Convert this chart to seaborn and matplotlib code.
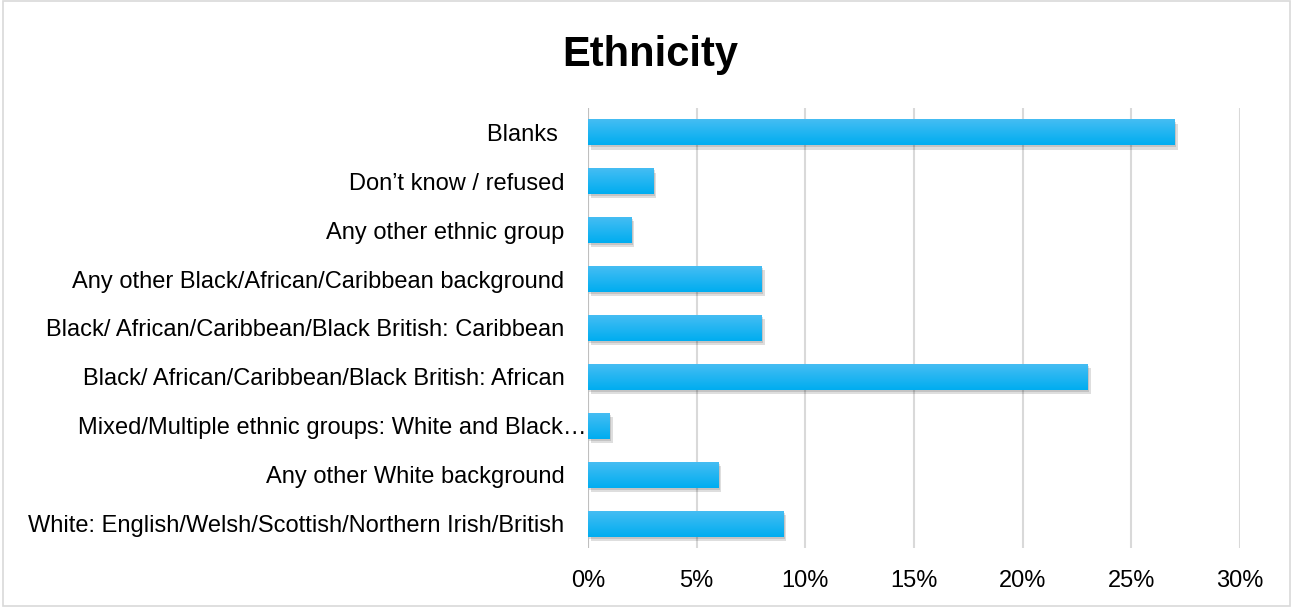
import numpy as np
import pandas as pd
import matplotlib
matplotlib.use("Agg")
import matplotlib.pyplot as plt
import matplotlib.patheffects as pe
import matplotlib.transforms as mtransforms
from matplotlib.colors import LinearSegmentedColormap
from matplotlib.ticker import PercentFormatter
import seaborn as sns

categories = [
    "Blanks ",
    "Don\u2019t know / refused",
    "Any other ethnic group",
    "Any other Black/African/Caribbean background",
    "Black/ African/Caribbean/Black British: Caribbean",
    "Black/ African/Caribbean/Black British: African",
    "Mixed/Multiple ethnic groups: White and Black\u2026",
    "Any other White background",
    "White: English/Welsh/Scottish/Northern Irish/British",
]
shares = [27, 3, 2, 8, 8, 23, 1, 6, 9]
x_ticks = [0, 5, 10, 15, 20, 25, 30]

df = pd.DataFrame({"group": categories, "share": shares})

sns.set_theme(style="white")
plt.rcParams["font.family"] = ["Liberation Sans", "DejaVu Sans"]

fig = plt.figure(figsize=(12.93, 6.07), dpi=100)
ax = fig.add_axes([588 / 1293, 1 - 548 / 607, (1240 - 588) / 1293, (548 - 108) / 607])

sns.barplot(data=df, x="share", y="group", color="#00b0f0", width=0.53,
            orient="h", ax=ax, zorder=3, linewidth=0)

# gradient fill + soft shadow on each bar, like the office chart
grad = LinearSegmentedColormap.from_list("g", ["#45bdf3", "#00adf0"])
for bar in ax.patches:
    bar.set_path_effects([pe.SimplePatchShadow(offset=(2, -3), shadow_rgbFace="#000000", alpha=0.13),
                          pe.SimplePatchShadow(offset=(1, -1.5), shadow_rgbFace="#000000", alpha=0.12),
                          pe.Normal()])
    x0, y0 = bar.get_x(), bar.get_y()
    w, h = bar.get_width(), bar.get_height()
    im = ax.imshow(np.linspace(0, 1, 50).reshape(-1, 1), cmap=grad, aspect="auto",
                   extent=[x0, x0 + w, y0 + h, y0], origin="upper", zorder=4)
    im.set_clip_path(bar)

ax.set_xlim(0, 30)
ax.set_ylim(8.5, -0.5)
ax.set_xticks(x_ticks)
ax.xaxis.set_major_formatter(PercentFormatter(decimals=0))
ax.grid(axis="x", color="#d9d9d9", linewidth=1.5, zorder=0)
ax.axvline(0, color="#bfbfbf", linewidth=1.5, zorder=1)
for s in ax.spines.values():
    s.set_visible(False)
ax.set_xlabel("")
ax.set_ylabel("")
ax.tick_params(axis="both", length=0, labelsize=17, colors="black")
ax.tick_params(axis="y", pad=17)
ax.tick_params(axis="x", pad=16)

# the truncated label runs right up to the axis in the original
for lbl in ax.get_yticklabels():
    if lbl.get_text().endswith("\u2026"):
        lbl.set_transform(lbl.get_transform() + mtransforms.ScaledTranslation(22 / 100, 0, fig.dpi_scale_trans))

fig.text(650 / 1293, 1 - 55 / 607, "Ethnicity", ha="center", va="center",
         fontsize=30, fontweight="bold", color="black")

fig.patches.append(plt.Rectangle((0.002, 0.002), 0.996, 0.996, transform=fig.transFigure,
                                 fill=False, edgecolor="#d9d9d9", linewidth=1.2))

fig.savefig("out.png", dpi=100, facecolor="white")
